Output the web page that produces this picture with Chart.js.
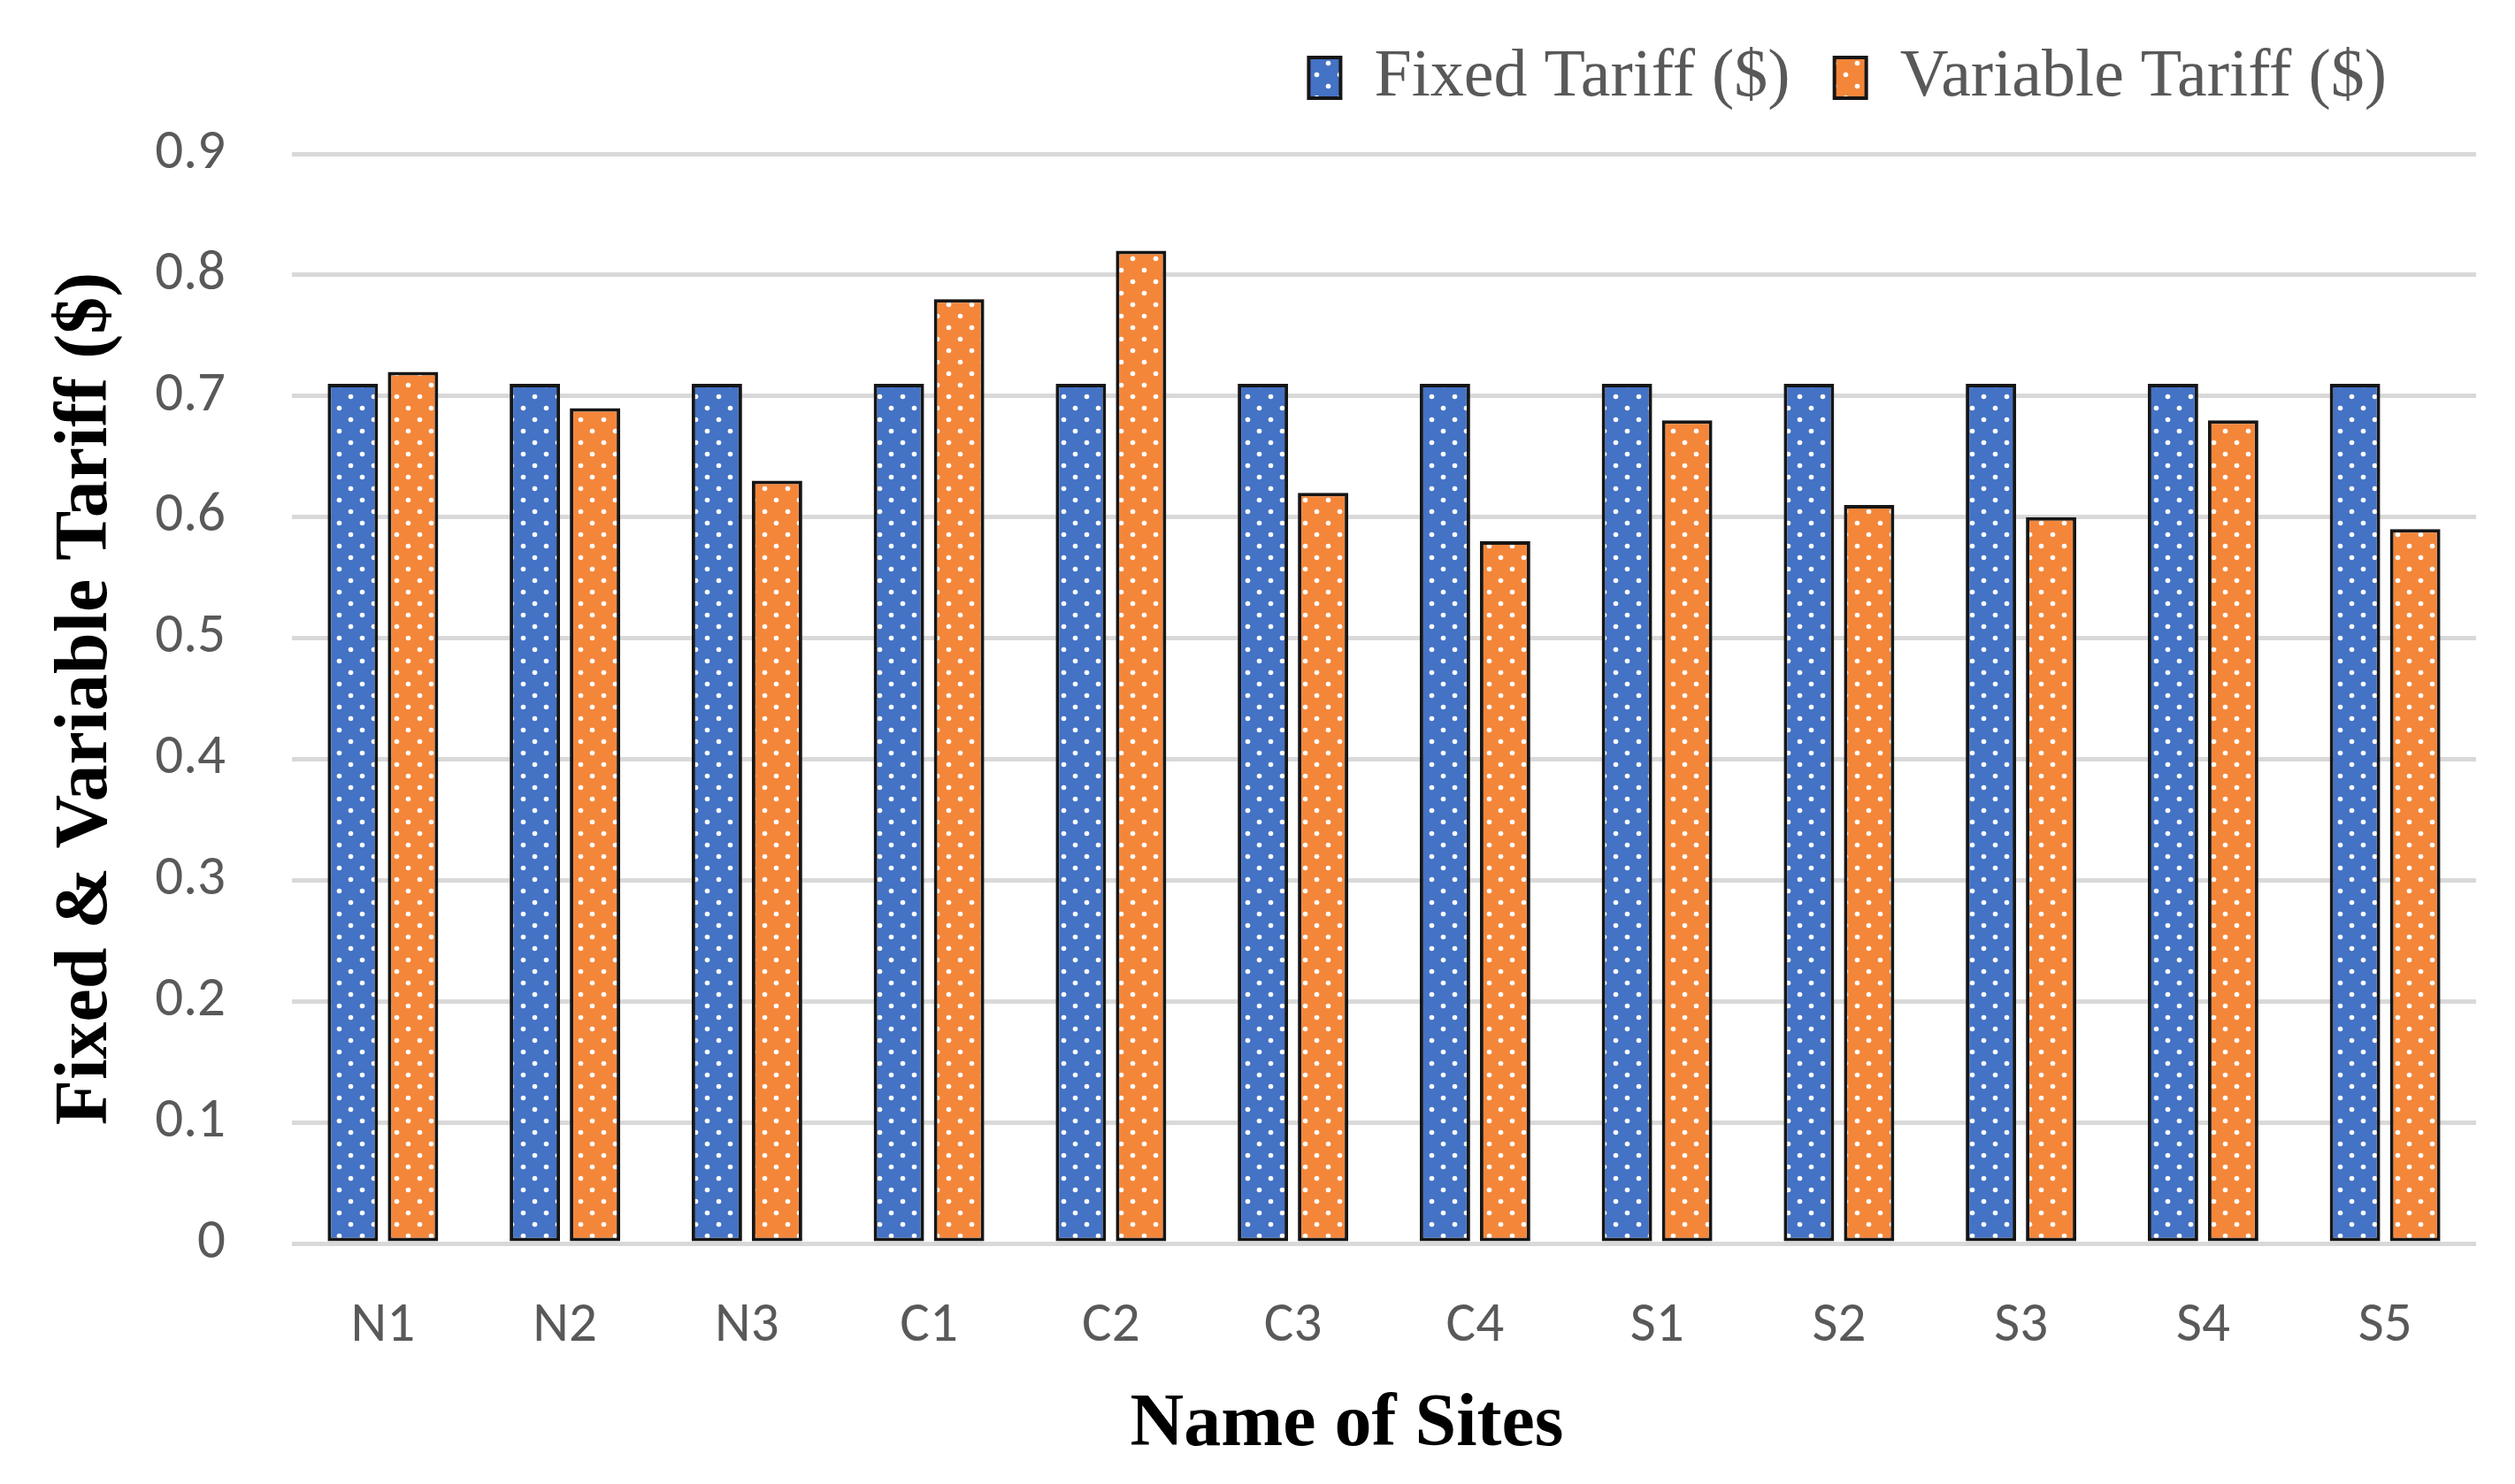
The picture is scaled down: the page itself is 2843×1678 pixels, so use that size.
<!DOCTYPE html>
<html>
<head>
<meta charset="utf-8">
<title>Fixed & Variable Tariff</title>
<script src="https://cdn.jsdelivr.net/npm/chart.js@4/dist/chart.umd.min.js"></script>
<style>
    html, body { margin: 0; padding: 0; background: #fff; }
    canvas { display: block; }
</style>
</head>
<body>
<canvas id="chart-tariff" width="2843" height="1678"></canvas>
<script>
const sites = ['N1', 'N2', 'N3', 'C1', 'C2', 'C3', 'C4', 'S1', 'S2', 'S3', 'S4', 'S5'];
const fixedTariff = [0.71, 0.71, 0.71, 0.71, 0.71, 0.71, 0.71, 0.71, 0.71, 0.71, 0.71, 0.71];
const variableTariff = [0.72, 0.69, 0.63, 0.78, 0.82, 0.62, 0.58, 0.68, 0.61, 0.60, 0.68, 0.59];
const yTicks = [0, 0.1, 0.2, 0.3, 0.4, 0.5, 0.6, 0.7, 0.8, 0.9];

// dotted fill like the Excel "small confetti" pattern
function dotPattern(color) {
    const c = document.createElement('canvas');
    c.width = 26;
    c.height = 26;
    const g = c.getContext('2d');
    g.fillStyle = color;
    g.fillRect(0, 0, c.width, c.height);
    g.fillStyle = '#ffffff';
    [[6.5, 6.5], [19.5, 19.5]].forEach(([x, y]) => {
        g.beginPath();
        g.arc(x, y, 2.8, 0, Math.PI * 2);
        g.fill();
    });
    return g.createPattern(c, 'repeat');
}

const tickFont = { family: 'Carlito, "Open Sans", sans-serif', size: 63 };
const titleFont = { family: '"Liberation Serif", "Times New Roman", serif', size: 84, weight: 'bold' };

// legend sits a bit left of the plot edge with more room below it;
// the x title sits slightly left of the plot centre
const layoutTweak = {
    id: 'layoutTweak',
    beforeLayout(chart) {
        const lg = chart.legend;
        if (lg && !lg._tweaked) {
            const fit = lg.fit;
            lg.fit = function () {
                fit.call(this);
                this.height += 38;
            };
            lg._tweaked = true;
        }
    },
    afterLayout(chart) {
        chart.legend.right -= 51;
        const x = chart.scales.x;
        if (!x._tweaked) {
            const drawTitle = x.drawTitle;
            x.drawTitle = function () {
                const l = this.left, r = this.right;
                this.left -= 42;
                this.right -= 42;
                drawTitle.call(this);
                this.left = l;
                this.right = r;
            };
            x._tweaked = true;
        }
    },
};

new Chart(document.getElementById('chart-tariff'), {
    type: 'bar',
    data: {
        labels: sites,
        datasets: [
            {
                label: 'Fixed Tariff ($)',
                data: fixedTariff,
                backgroundColor: dotPattern('#4472C4'),
                borderColor: '#161616',
                borderWidth: 4,
                borderSkipped: false,
            },
            {
                label: 'Variable Tariff ($)',
                data: variableTariff,
                backgroundColor: dotPattern('#F4863A'),
                borderColor: '#161616',
                borderWidth: 4,
                borderSkipped: false,
            },
        ],
    },
    options: {
        responsive: false,
        devicePixelRatio: 1,
        animation: false,
        categoryPercentage: 0.661,
        barPercentage: 0.838,
        layout: { padding: { top: 0, left: 30, right: 44, bottom: 5 } },
        plugins: {
            tooltip: { enabled: false },
            legend: {
                position: 'top',
                align: 'end',
                labels: {
                    boxWidth: 36,
                    boxHeight: 46,
                    padding: 50,
                    color: '#595959',
                    font: { family: '"Liberation Serif", "Times New Roman", serif', size: 76 },
                },
            },
        },
        scales: {
            x: {
                grid: { display: false },
                border: { display: false },
                ticks: { color: '#595959', font: tickFont, padding: 48 },
                title: {
                    display: true,
                    text: 'Name of Sites',
                    color: '#000',
                    font: titleFont,
                    padding: { top: 0, bottom: 10 },
                },
                afterFit: s => { s.height = 1678 - 1406 - 5; },
            },
            y: {
                min: 0,
                max: 0.9,
                afterBuildTicks: s => { s.ticks = yTicks.map(v => ({ value: v })); },
                grid: { color: '#D9D9D9', lineWidth: 5, drawTicks: false },
                border: { display: false },
                ticks: {
                    color: '#595959',
                    font: tickFont,
                    padding: 75,
                    callback: v => (v === 0 ? '0' : v.toFixed(1)),
                },
                title: {
                    display: true,
                    text: 'Fixed & Variable Tariff ($)',
                    color: '#000',
                    font: titleFont,
                    padding: { top: 18, bottom: 0 },
                },
                afterFit: s => { s.width = 330 - 30; },
            },
        },
    },
    plugins: [layoutTweak],
});
</script>
</body>
</html>
